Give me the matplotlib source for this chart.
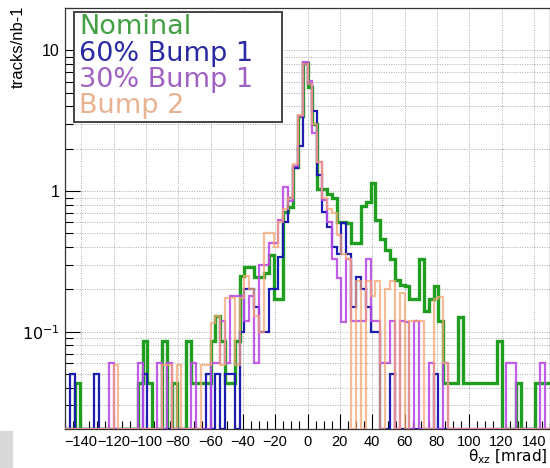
import numpy as np
import matplotlib.pyplot as plt
from matplotlib.ticker import FixedLocator, NullFormatter, MultipleLocator

plt.rcParams['mathtext.fontset'] = 'dejavusans'

# 100 bins of 3 mrad from -150 to 150, values in tracks/nb-1 (0 = empty bin)
bin_edges = np.linspace(-150, 150, 101)

nominal = [
    0, 0, .043, 0, 0, 0, 0, 0, 0, 0,
    0, 0, 0, 0, 0, .043, .086, .043, 0, 0,
    .086, 0, .043, 0, 0, .086, .043, .043, .043, .043,
    .086, .13, .086, .043, .043, .086, .25, .29, .29, .245,
    .245, .26, .35, .17, .17, .71, .77, 1.49, 3.4, 8.1,
    5.5, 3.0, 1.03, 1.03, .96, .89, .6, .6, .59, .43,
    .43, .79, .84, 1.14, .62, .46, .38, .33, .234, .215,
    .21, .17, .17, .33, .14, .17, .21, .12, .043, .043,
    .043, .128, .043, .043, .043, .043, .043, .043, .043, .086,
    0, 0, 0, .043, 0, 0, 0, .043, .043, .043,
]
bump1_60 = [
    0, .05, 0, 0, 0, 0, .05, 0, 0, 0,
    0, 0, 0, 0, 0, 0, .05, 0, 0, 0,
    0, 0, 0, 0, 0, 0, 0, 0, 0, .05,
    0, .05, 0, .05, .05, 0, .1, .2, .2, .15,
    .1, .1, .2, .2, .34, .6, .9, 1.45, 2.1, 8.0,
    5.8, 3.7, 1.3, .71, .56, .4, .36, .59, .36, .15,
    .245, .2, .15, .1, .1, 0, 0, .05, 0, 0,
    0, 0, 0, 0, 0, 0, .05, 0, 0, 0,
    0, 0, 0, 0, 0, 0, 0, 0, 0, 0,
    0, 0, 0, 0, 0, 0, 0, 0, 0, 0,
]
bump1_30 = [
    0, 0, 0, 0, 0, 0, 0, 0, 0, .06,
    0, 0, 0, 0, 0, .06, 0, 0, 0, .06,
    0, .06, 0, 0, 0, 0, .06, 0, 0, 0,
    .06, .06, .12, .06, .18, .18, .18, .12, .18, .06,
    .3, .3, .43, .43, .62, 1.07, .85, 1.5, 3.4, 8.2,
    6.1, 2.6, 1.6, .86, .6, .33, .24, .118, .33, .12,
    .12, .12, .33, .12, .12, .06, .06, .12, 0, .12,
    .118, 0, .12, 0, 0, .06, 0, 0, .06, 0,
    0, 0, 0, 0, 0, 0, 0, 0, 0, 0,
    0, .06, .06, 0, 0, 0, 0, 0, .06, 0,
]
bump2 = [
    0, 0, 0, 0, 0, 0, 0, 0, 0, 0,
    .058, 0, 0, 0, 0, 0, 0, 0, 0, 0,
    .058, .058, 0, .058, 0, 0, 0, 0, .058, .058,
    .116, .13, .058, .175, .175, .058, .175, .25, .2, .13,
    .1, .5, .5, .4, .6, .75, .9, 1.55, 3.5, 8.0,
    5.8, 3.0, 1.6, .89, .75, .7, .49, .36, .33, 0,
    .23, 0, .23, .18, .23, 0, .2, .23, 0, .19,
    0, .12, .12, .12, 0, 0, .17, .176, .06, 0,
    0, 0, 0, 0, 0, 0, 0, 0, 0, 0,
    0, 0, 0, 0, 0, 0, 0, 0, 0, 0,
]

labels = ['Nominal', '60% Bump 1', '30% Bump 1', 'Bump 2']
line_colors = ['#1f9e1f', '#1c1cb0', '#bb4ce6', '#f4a474']
text_colors = ['#45a045', '#2a2aa2', '#a062c2', '#e9b392']

ymin, ymax = 0.0204, 20

fig = plt.figure(figsize=(5.5, 4.68), dpi=100)
ax = fig.add_axes([65 / 550, 1 - 429 / 468, 485 / 550, 421 / 468])

series = [nominal, bump1_60, bump1_30, bump2]
widths = [2.4, 1.6, 1.6, 1.6]
alphas = [1, 1, 0.9, 0.75]
for k, vals in enumerate(series):
    v = np.array(vals, dtype=float)
    v[v <= 0] = ymin  # empty bins sit on the bottom axis like in ROOT
    ax.stairs(v, bin_edges, color=line_colors[k], lw=widths[k],
              alpha=alphas[k], zorder=3 + k, baseline=None)

ax.set_yscale('log')
ax.set_xlim(-150, 150)
ax.set_ylim(ymin, ymax)

ax.xaxis.set_minor_locator(MultipleLocator(5))
ax.set_xticks(np.arange(-140, 141, 20))
ax.set_xticklabels(['\u2212%d' % -t if t < 0 else '%d' % t for t in range(-140, 141, 20)])
ax.yaxis.set_major_locator(FixedLocator([0.1, 1, 10]))
ax.set_yticklabels(['$10^{-1}$', '1', '10'])
minor_y = [m * 10.0 ** e for e in (-2, -1, 0, 1) for m in range(2, 10)]
ax.yaxis.set_minor_locator(FixedLocator(minor_y))
ax.yaxis.set_minor_formatter(NullFormatter())

ax.tick_params(which='both', direction='in', top=False, right=False,
               labelsize=10.5, labelfontfamily='Liberation Sans', pad=4)
ax.tick_params(axis='y', labelsize=11.5)
ax.tick_params(which='major', length=11, width=0.8)
ax.tick_params(which='minor', length=5.5, width=0.8)

ax.grid(True, which='major', axis='x', color='#aaaaaa', lw=0.7, dashes=(1, 1.5))
ax.grid(True, which='both', axis='y', color='#aaaaaa', lw=0.7, dashes=(1, 1.5))
ax.set_axisbelow(True)
for s in ax.spines.values():
    s.set_linewidth(0.9)
    s.set_color('#333333')

# legend box like ROOT TLegend
leg_ax = fig.add_axes([74 / 550, 1 - 122 / 468, 208 / 550, 110 / 468])
leg_ax.set_xticks([])
leg_ax.set_yticks([])
leg_ax.set_zorder(10)
for s in leg_ax.spines.values():
    s.set_linewidth(1.4)
    s.set_color('#444444')
baselines = [34, 61, 87, 113]
for k, lab in enumerate(labels):
    fig.text(79 / 550, 1 - baselines[k] / 468, lab, color=text_colors[k], fontsize=19.5,
             family='DejaVu Sans', ha='left', va='baseline', zorder=20)

fig.text(18 / 550, 1 - 6 / 468, 'tracks/nb-1', rotation=90, ha='center', va='top',
         fontsize=12, family='Liberation Sans')
fig.text(548 / 550, 1 - 466 / 468, '\u03b8$_{\\mathrm{xz}}$ [mrad]', ha='right', va='bottom',
         fontsize=11, family='DejaVu Sans')

fig.patches.append(plt.Rectangle((0, 0), 12 / 550, 37 / 468, transform=fig.transFigure,
                                 color='#d9d9d9', zorder=0))

fig.savefig('out.png', dpi=100)
